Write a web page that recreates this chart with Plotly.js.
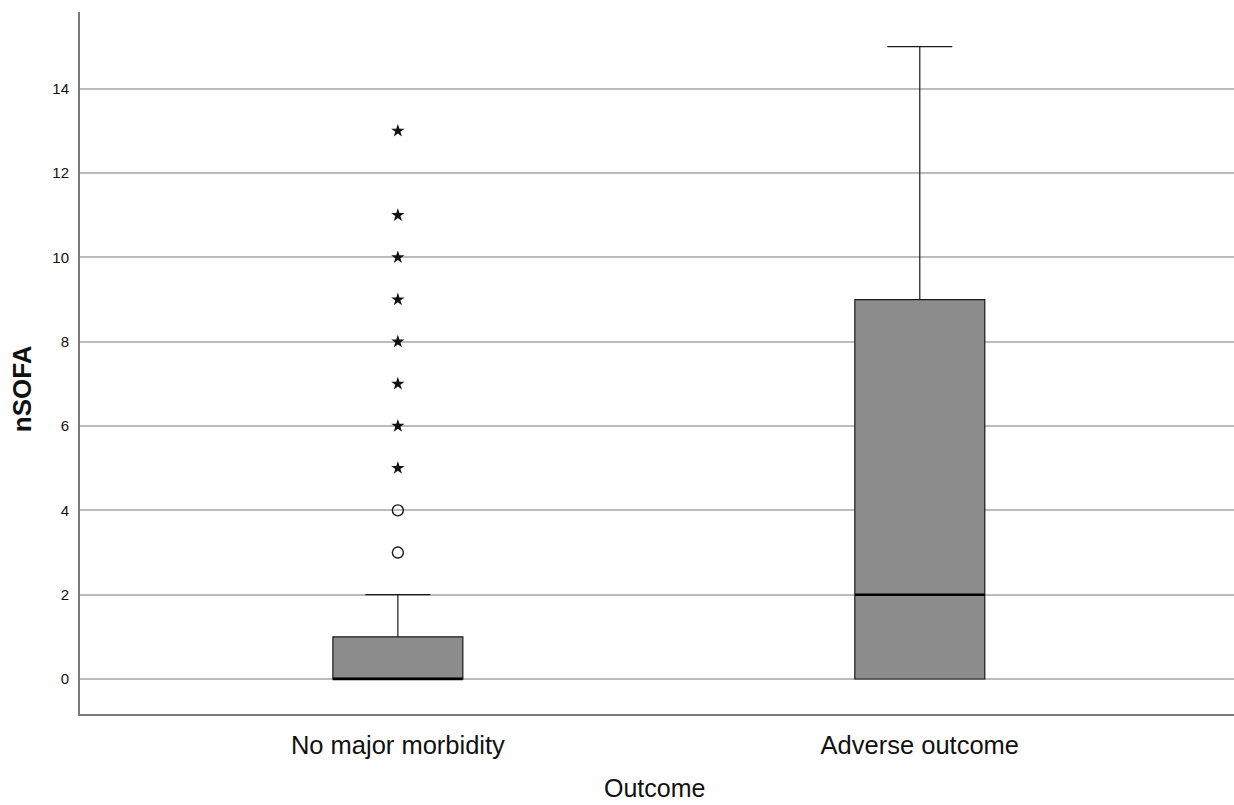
<!DOCTYPE html>
<html>
<head>
<meta charset="utf-8">
<script src="https://cdn.plot.ly/plotly-3.0.1.min.js"></script>
<style>html,body{margin:0;padding:0;background:#fff;}#chart{width:1234px;height:805px;}</style>
</head>
<body>
<div id="chart"></div>
<script>
const categories = ["No major morbidity", "Adverse outcome"];
const lowerFence = [0, 0];
const q1 = [0, 0];
const median = [0, 2];
const q3 = [1, 9];
const upperFence = [2, 15];
const circleOutliersX = ["No major morbidity", "No major morbidity"];
const circleOutliersY = [3, 4];
const starOutliersX = ["No major morbidity","No major morbidity","No major morbidity","No major morbidity","No major morbidity","No major morbidity","No major morbidity","No major morbidity"];
const starOutliersY = [5, 6, 7, 8, 9, 10, 11, 13];
const yTicks = [0, 2, 4, 6, 8, 10, 12, 14];
const xTitle = "Outcome";
const yTitle = "nSOFA";

const boxWidth = 0.249;

const traces = [
  {
    type: 'box',
    x: categories,
    q1: q1, median: median, q3: q3,
    lowerfence: lowerFence, upperfence: upperFence,
    width: boxWidth,
    whiskerwidth: 0.5,
    fillcolor: '#8c8c8c',
    line: {color: '#1a1a1a', width: 1.2},
    boxpoints: false,
    hoverinfo: 'none',
    showlegend: false
  },
  {
    type: 'scatter', mode: 'markers',
    x: circleOutliersX, y: circleOutliersY,
    marker: {symbol: 'circle-open', size: 11, color: '#1a1a1a', line: {width: 1.4, color: '#1a1a1a'}},
    showlegend: false, hoverinfo: 'none'
  },
  {
    type: 'scatter', mode: 'markers',
    x: starOutliersX, y: starOutliersY,
    marker: {symbol: 'star', size: 10, color: '#111'},
    showlegend: false, hoverinfo: 'none'
  }
];

const shapes = categories.map((c, i) => ({
  type: 'line', xref: 'x', yref: 'y',
  x0: i - boxWidth / 2, x1: i + boxWidth / 2,
  y0: median[i], y1: median[i],
  line: {color: '#000', width: 2.5}
}));

const layout = {
  width: 1234, height: 805,
  margin: {l: 80, r: 0, t: 12, b: 91},
  paper_bgcolor: '#fff', plot_bgcolor: '#fff',
  font: {family: 'Liberation Sans, Arial, sans-serif', color: '#111'},
  showlegend: false,
  shapes: shapes,
  annotations: [
    {
      text: yTitle, xref: 'paper', yref: 'paper',
      x: -0.0503, y: 0.464, xanchor: 'center', yanchor: 'middle',
      textangle: -90, showarrow: false,
      font: {size: 26, color: '#111', family: 'Liberation Sans, Arial, sans-serif', weight: 'bold'}
    },
    {
      text: xTitle, xref: 'paper', yref: 'paper',
      x: 0.4975, y: -0.106, xanchor: 'center', yanchor: 'middle',
      showarrow: false,
      font: {size: 25, color: '#111', family: 'Liberation Sans, Arial, sans-serif'}
    }
  ],
  xaxis: {
    type: 'category',
    range: [-0.609, 1.602],
    showgrid: false, zeroline: false,
    showline: true, linecolor: '#7a7a7a', linewidth: 2,
    ticks: '', ticklabelstandoff: 7,
    tickfont: {size: 25.5, color: '#111'}
  },
  yaxis: {
    range: [-0.83, 15.82],
    tickvals: yTicks, ticktext: yTicks.map(String),
    showgrid: true, gridcolor: '#bcbcbc', gridwidth: 2,
    zeroline: false,
    showline: true, linecolor: '#7a7a7a', linewidth: 2,
    ticks: '', ticklabelstandoff: 6,
    tickfont: {size: 15, color: '#111'}
  }
};

Plotly.newPlot('chart', traces, layout, {displayModeBar: false, staticPlot: true});
</script>
</body>
</html>
